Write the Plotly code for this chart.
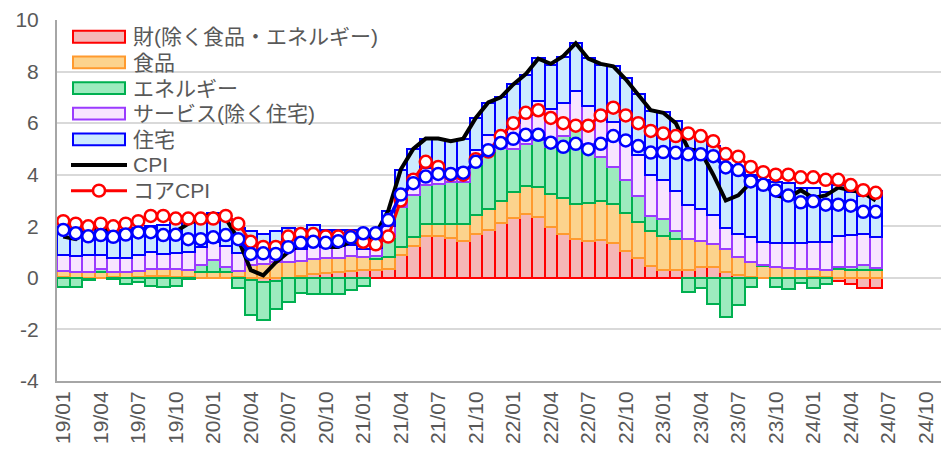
import plotly.graph_objects as go

# ---- categories (monthly, 19/01 .. 24/12 on the axis; data through 24/06)
months = [f"{y:02d}/{m:02d}" for y in range(19, 25) for m in range(1, 13)]
n_data = 66
x = list(range(n_data))
tick_pos = list(range(0, 70, 3))
tick_labels = [months[i] for i in tick_pos]

# ---- contributions to CPI YoY (%pt)
goods = [
    0.05, 0.00, -0.03, 0.00, 0.02, 0.00, 0.05, 0.08, 0.08, 0.05, 0.03, -0.02,
    0.00, 0.00, 0.02, -0.10, -0.15, -0.12, 0.00, 0.08, 0.15, 0.20, 0.22, 0.28,
    0.30, 0.29, 0.33, 0.87, 1.25, 1.63, 1.63, 1.53, 1.44, 1.70, 1.86, 2.14,
    2.33, 2.46, 2.36, 1.98, 1.72, 1.49, 1.44, 1.47, 1.36, 1.06, 0.77, 0.45,
    0.29, 0.29, 0.29, 0.42, 0.42, 0.23, 0.10, 0.04, 0.00, 0.00, 0.00, 0.00,
    0.02, 0.02, -0.13, -0.25, -0.40, -0.40]
food = [
    0.22, 0.22, 0.22, 0.22, 0.22, 0.22, 0.22, 0.25, 0.25, 0.28, 0.26, 0.24,
    0.23, 0.23, 0.25, 0.50, 0.55, 0.62, 0.62, 0.58, 0.58, 0.56, 0.55, 0.55,
    0.50, 0.45, 0.47, 0.32, 0.32, 0.45, 0.47, 0.55, 0.64, 0.72, 0.82, 0.85,
    1.00, 1.09, 1.16, 1.29, 1.38, 1.39, 1.47, 1.53, 1.51, 1.44, 1.41, 1.37,
    1.34, 1.21, 1.21, 1.02, 0.89, 0.89, 0.70, 0.57, 0.46, 0.42, 0.40, 0.36,
    0.34, 0.27, 0.33, 0.30, 0.29, 0.30]
energy = [
    -0.37, -0.37, -0.05, 0.12, -0.05, -0.25, -0.15, -0.33, -0.36, -0.31, -0.05, 0.25,
    0.45, 0.19, -0.41, -1.33, -1.47, -1.10, -0.95, -0.60, -0.62, -0.64, -0.62, -0.47,
    -0.30, 0.10, 0.80, 1.55, 1.66, 1.53, 1.55, 1.62, 1.62, 2.00, 2.25, 2.05,
    1.68, 1.65, 1.81, 1.81, 2.42, 2.90, 2.29, 1.69, 1.44, 1.30, 0.98, 0.58,
    0.64, 0.32, -0.54, -0.41, -1.02, -1.50, -1.07, -0.34, 0.02, -0.34, -0.43, -0.18,
    -0.38, -0.22, 0.09, 0.12, 0.19, 0.08]
services = [
    0.62, 0.62, 0.65, 0.55, 0.52, 0.54, 0.60, 0.66, 0.60, 0.62, 0.71, 0.72,
    0.70, 0.83, 0.71, 0.45, 0.35, 0.40, 0.50, 0.45, 0.55, 0.45, 0.45, 0.44,
    0.30, 0.30, 0.40, 0.50, 0.75, 0.64, 0.60, 0.50, 0.55, 0.55, 0.60, 0.60,
    0.99, 1.13, 1.53, 1.46, 1.28, 1.46, 1.45, 1.53, 1.72, 1.70, 1.60, 1.59,
    1.53, 1.53, 1.34, 1.24, 1.11, 0.83, 0.90, 0.96, 0.90, 0.93, 0.95, 0.99,
    1.02, 1.09, 1.21, 1.25, 1.21, 1.19]
shelter = [
    1.10, 1.03, 1.10, 1.11, 1.09, 1.09, 1.08, 1.04, 1.13, 1.18, 1.16, 1.11,
    1.12, 1.05, 0.95, 0.88, 0.82, 0.80, 0.83, 0.79, 0.78, 0.65, 0.64, 0.60,
    0.55, 0.55, 0.60, 0.95, 1.02, 1.14, 1.15, 1.10, 1.15, 1.23, 1.27, 1.36,
    1.50, 1.55, 1.66, 1.73, 1.78, 1.85, 1.88, 2.05, 2.17, 2.26, 2.36, 2.49,
    2.62, 2.75, 2.75, 2.78, 2.68, 2.42, 2.48, 2.42, 2.42, 2.35, 2.32, 2.13,
    2.10, 1.94, 1.98, 1.65, 1.50, 1.78]

# ---- lines (YoY %)
cpi = [
    1.6, 1.5, 1.9, 2.0, 1.8, 1.6, 1.8, 1.7, 1.7, 1.8, 2.1, 2.3,
    2.5, 2.3, 1.5, 0.3, 0.1, 0.6, 1.0, 1.3, 1.4, 1.2, 1.2, 1.4,
    1.4, 1.7, 2.6, 4.2, 5.0, 5.4, 5.4, 5.3, 5.4, 6.2, 6.8, 7.0,
    7.5, 7.9, 8.5, 8.3, 8.6, 9.1, 8.5, 8.3, 8.2, 7.7, 7.1, 6.5,
    6.4, 6.0, 5.0, 4.9, 4.0, 3.0, 3.2, 3.7, 3.7, 3.2, 3.1, 3.4,
    3.1, 3.2, 3.5, 3.4, 3.3, 3.0]
core_cpi = [
    2.2, 2.1, 2.0, 2.1, 2.0, 2.1, 2.2, 2.4, 2.4, 2.3, 2.3, 2.3,
    2.3, 2.4, 2.1, 1.4, 1.2, 1.2, 1.6, 1.7, 1.7, 1.6, 1.6, 1.6,
    1.4, 1.3, 1.6, 3.0, 3.8, 4.5, 4.3, 4.0, 4.0, 4.6, 4.9, 5.5,
    6.0, 6.4, 6.5, 6.2, 6.0, 5.9, 5.9, 6.3, 6.6, 6.3, 6.0, 5.7,
    5.6, 5.5, 5.6, 5.5, 5.3, 4.8, 4.7, 4.3, 4.1, 4.0, 4.0, 3.9,
    3.9, 3.8, 3.8, 3.6, 3.4, 3.3]
core_pce = [
    1.86, 1.73, 1.61, 1.66, 1.59, 1.68, 1.76, 1.77, 1.66, 1.67, 1.50, 1.50,
    1.57, 1.66, 1.50, 0.93, 0.95, 0.93, 1.19, 1.36, 1.40, 1.36, 1.42, 1.57,
    1.73, 1.73, 2.24, 3.23, 3.67, 3.93, 4.03, 4.03, 4.08, 4.50, 4.95, 5.23,
    5.39, 5.55, 5.55, 5.24, 5.08, 5.20, 4.99, 5.20, 5.50, 5.33, 5.11, 4.86,
    4.88, 4.85, 4.79, 4.79, 4.72, 4.28, 4.18, 3.74, 3.61, 3.39, 3.19, 2.93,
    2.97, 2.84, 2.84, 2.80, 2.56, 2.56]

bar_specs = [
    ("財(除く食品・エネルギー)", goods, "#F5B7B7", "#FF0000"),
    ("食品", food, "#FCD38D", "#FF9A2E"),
    ("エネルギー", energy, "#9DEBBE", "#00B050"),
    ("サービス(除く住宅)", services, "#F8E5FF", "#9B3BFF"),
    ("住宅", shelter, "#CCEAFF", "#0000FF"),
]

FONT = "Liberation Sans, Arial, Noto Sans CJK JP"
TXT = "#595959"

fig = go.Figure()
for name, vals, fill, edge in bar_specs:
    fig.add_trace(go.Bar(x=x, y=vals, name=name, showlegend=False,
                         marker=dict(color=fill, line=dict(color=edge, width=2))))

fig.add_trace(go.Scatter(x=x, y=cpi, name="CPI", mode="lines", showlegend=False,
                         line=dict(color="black", width=4)))
fig.add_trace(go.Scatter(x=x, y=core_cpi, name="コアCPI", mode="lines+markers", showlegend=False,
                         line=dict(color="#FF0000", width=3),
                         marker=dict(symbol="circle", size=12, color="white",
                                     line=dict(color="#FF0000", width=2.5))))
fig.add_trace(go.Scatter(x=x, y=core_pce, name="コアPCE", mode="lines+markers", showlegend=False,
                         line=dict(color="#0000FF", width=3.5),
                         marker=dict(symbol="circle", size=12, color="white",
                                     line=dict(color="#0000FF", width=2.5))))

# ---- legend drawn by hand (wide swatches, tight rows like the original)
# page pixel geometry of the plot area (body has 8px margin)
PX0, PX1, PY0, PY1 = 57, 949, 15, 381
def px(v):
    return (v - PX0) / (PX1 - PX0)
def py(v):
    return (PY1 - v) / (PY1 - PY0)

shapes = []
annotations = []
row_y0, row_dy = 32, 26
sw_x0, sw_x1, txt_x = 73, 125, 131
for i, (name, _, fill, edge) in enumerate(bar_specs):
    cy = row_y0 + i * row_dy
    shapes.append(dict(type="rect", xref="paper", yref="paper",
                       x0=px(sw_x0), x1=px(sw_x1), y0=py(cy + 6), y1=py(cy - 6),
                       fillcolor=fill, line=dict(color=edge, width=2), layer="above"))
    annotations.append(dict(text=name, xref="paper", yref="paper", x=px(txt_x), y=py(cy),
                            xanchor="left", yanchor="middle", showarrow=False,
                            font=dict(size=21, color=TXT, family=FONT)))
line_entries = [("CPI", "black", None), ("コアCPI", "#FF0000", "#FF0000")]
for j, (name, col, mk) in enumerate(line_entries):
    cy = row_y0 + (len(bar_specs) + j) * row_dy
    shapes.append(dict(type="line", xref="paper", yref="paper",
                       x0=px(sw_x0 - 2), x1=px(sw_x1 + 2), y0=py(cy), y1=py(cy),
                       line=dict(color=col, width=4 if mk is None else 3), layer="above"))
    if mk:
        shapes.append(dict(type="circle", xref="paper", yref="paper",
                           x0=px(99 - 6), x1=px(99 + 6), y0=py(cy + 6), y1=py(cy - 6),
                           fillcolor="white", line=dict(color=mk, width=2.5), layer="above"))
    annotations.append(dict(text=name, xref="paper", yref="paper", x=px(txt_x), y=py(cy),
                            xanchor="left", yanchor="middle", showarrow=False,
                            font=dict(size=21, color=TXT, family=FONT)))

xr = [-0.5, -0.5 + 892 / 12.5]
fig.update_layout(
    width=941, height=447,
    margin=dict(l=49, r=0, t=7, b=74),
    paper_bgcolor="white", plot_bgcolor="white",
    barmode="relative", bargap=0,
    font=dict(family=FONT, color=TXT),
    showlegend=False,
    shapes=shapes, annotations=annotations,
    xaxis=dict(range=xr, tickmode="array", tickvals=tick_pos, ticktext=tick_labels,
               tickangle=-90, tickfont=dict(size=21, color=TXT),
               showgrid=False, zeroline=False, showline=True,
               linecolor="#A6A6A6", linewidth=2, ticks=""),
    xaxis2=dict(range=xr, overlaying="x", anchor="free", position=4 / 14, side="bottom",
                tickmode="array", tickvals=[i - 0.5 for i in range(3, 70, 3)],
                showticklabels=False, ticks="outside", ticklen=6, tickwidth=2,
                tickcolor="#8C8C8C", showline=True, linecolor="#8C8C8C", linewidth=2,
                showgrid=False, zeroline=False),
    yaxis=dict(range=[-4, 10], tickmode="array", tickvals=[-4, -2, 0, 2, 4, 6, 8, 10],
               ticktext=["-4", "-2", "0", "2", "4", "6", "8", "10"],
               showgrid=True, gridcolor="#D9D9D9", ticklabeloverflow="allow",
               gridwidth=2, zeroline=False, showline=True, linecolor="#A6A6A6",
               linewidth=2, ticks="", tickfont=dict(size=21, color=TXT),
               ticklabelstandoff=12),
)
fig.write_html("out.html")
